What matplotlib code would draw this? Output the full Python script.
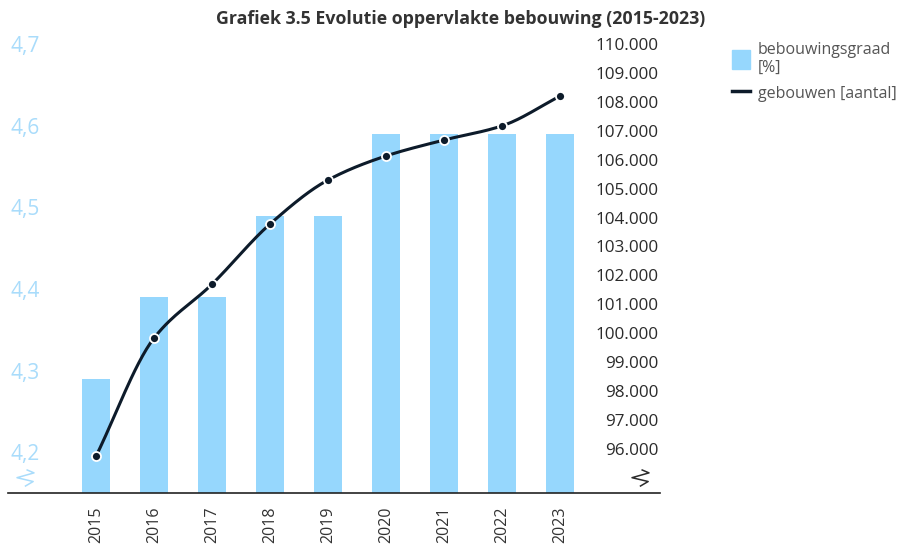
import matplotlib.pyplot as plt
import numpy as np
from matplotlib.lines import Line2D
from matplotlib.patches import Patch

plt.rcParams['font.family'] = ['Open Sans', 'DejaVu Sans']

jaren = ['2015', '2016', '2017', '2018', '2019', '2020', '2021', '2022', '2023']
bebouwingsgraad = [4.29, 4.39, 4.39, 4.49, 4.49, 4.59, 4.59, 4.59, 4.59]
gebouwen = [95760, 99840, 101700, 103780, 105300, 106130, 106680, 107170, 108200]

bar_color = '#96d7fd'
line_color = '#0d1b2a'


def pchip_path(x, y, n=30):
    # monotone cubic path, only used to draw the smooth line
    x = np.asarray(x, float)
    y = np.asarray(y, float)
    h = np.diff(x)
    d = np.diff(y) / h
    m = np.zeros_like(y)
    for k in range(1, len(y) - 1):
        if d[k - 1] * d[k] > 0:
            w1 = 2 * h[k] + h[k - 1]
            w2 = h[k] + 2 * h[k - 1]
            m[k] = (w1 + w2) / (w1 / d[k - 1] + w2 / d[k])
    m[0] = d[0]
    m[-1] = d[-1]
    xs, ys = [], []
    for k in range(len(x) - 1):
        t = np.linspace(0, 1, n, endpoint=False)
        h00 = 2 * t**3 - 3 * t**2 + 1
        h10 = t**3 - 2 * t**2 + t
        h01 = -2 * t**3 + 3 * t**2
        h11 = t**3 - t**2
        xs.append(x[k] + t * h[k])
        ys.append(h00 * y[k] + h10 * h[k] * m[k] + h01 * y[k + 1] + h11 * h[k] * m[k + 1])
    xs.append([x[-1]])
    ys.append([y[-1]])
    return np.concatenate(xs), np.concatenate(ys)


fig = plt.figure(figsize=(9.17, 5.44), dpi=100)
ax = fig.add_axes([0.0087, 0.0938, 0.7110, 0.8547])
idx = np.arange(len(jaren))

ax.bar(idx, bebouwingsgraad, width=0.49, color=bar_color, zorder=2)
ax.set_xlim(-1.52, 9.72)
ax.set_ylim(4.15, 4.72)
ax.set_yticks([4.2, 4.3, 4.4, 4.5, 4.6, 4.7])
ax.set_yticklabels(['4,2', '4,3', '4,4', '4,5', '4,6', '4,7'], ha='left')
ax.tick_params(axis='y', length=0, pad=-1.5, labelsize=15, labelcolor='#a9dcfb')
ax.set_xticks(idx)
ax.set_xticklabels(jaren, rotation=90)
ax.tick_params(axis='x', length=0, pad=10, labelsize=11.5, labelcolor='#333333')
for s in ['top', 'left', 'right']:
    ax.spines[s].set_visible(False)
ax.spines['bottom'].set_color('#222222')
ax.spines['bottom'].set_linewidth(1.2)

ax2 = ax.twinx()
lx, ly = pchip_path(idx, gebouwen)
ax2.plot(lx, ly, color=line_color, lw=2.2, zorder=3)
ax2.plot(idx, gebouwen, 'o', ms=6.5, color=line_color, mec='white', mew=1.3, zorder=4)
ax2.set_ylim(94480, 110550)
rticks = np.arange(96000, 110001, 1000)
ax2.set_yticks(rticks)
ax2.set_yticklabels([f'{v // 1000}.000' for v in rticks], ha='right')
ax2.tick_params(axis='y', length=0, pad=-1, labelsize=12.3, labelcolor='#2b2b2b')
for s in ['top', 'left', 'right', 'bottom']:
    ax2.spines[s].set_visible(False)

# axis break marks
zz = np.array([[0.6, 1.0], [1.0, 0.82], [0.0, 0.52], [0.95, 0.28], [0.5, 0.0]])
for x0, col in [(17, '#a9dcfb'), (632, '#2b2b2b')]:
    px = x0 + zz[:, 0] * 17
    py = 544 - (470 + (1 - zz[:, 1]) * 16)
    fig.add_artist(Line2D(px / 917, py / 544, color=col, lw=1.1))

fig.suptitle('Grafiek 3.5 Evolutie oppervlakte bebouwing (2015-2023)',
             x=0.502, y=0.982, fontsize=12.8, fontweight='bold', color='#333333')

handles = [Patch(color=bar_color), Line2D([], [], color=line_color, lw=2.5)]
fig.legend(handles, ['bebouwingsgraad\n[%]', 'gebouwen [aantal]'],
           loc='upper left', bbox_to_anchor=(0.783, 0.95), frameon=False,
           fontsize=11.5, labelcolor='#555555', handlelength=1.1,
           handleheight=1.4, handletextpad=0.5, labelspacing=0.5)

fig.savefig('out.png', dpi=100)
